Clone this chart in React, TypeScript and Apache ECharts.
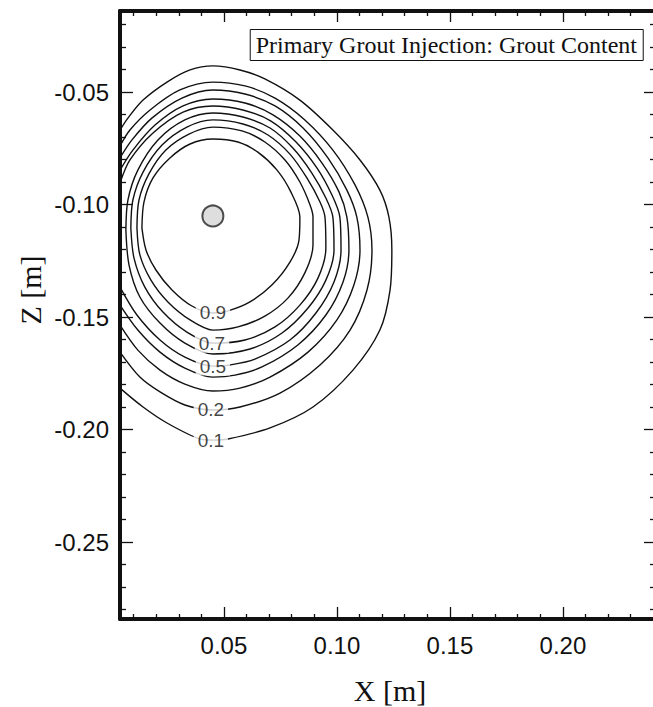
import React, { useEffect, useRef } from "react";
import * as echarts from "echarts";

// ---- axis ticks / labels ----
const xMajor = [0.05, 0.1, 0.15, 0.2];
const xMinor = [0.01, 0.02, 0.03, 0.04, 0.06, 0.07, 0.08, 0.09, 0.11, 0.12, 0.13, 0.14, 0.16, 0.17, 0.18, 0.19, 0.21, 0.22, 0.23];
const zMajor = [-0.25, -0.2, -0.15, -0.1, -0.05];
const zMinor = [-0.28, -0.27, -0.26, -0.24, -0.23, -0.22, -0.21, -0.19, -0.18, -0.17, -0.16, -0.14, -0.13, -0.12, -0.11, -0.09, -0.08, -0.07, -0.06, -0.04, -0.03, -0.02];
const xRange = [0.004, 0.2403];
const zRange = [-0.2842, -0.014];

// ---- contour lines (x [m], z [m]) ----
const c01 = [[0.0040,-0.0669],[0.0075,-0.0616],[0.0142,-0.0536],[0.0248,-0.0456],[0.0350,-0.0402],[0.0451,-0.0384],[0.0571,-0.0402],[0.0681,-0.0442],[0.0836,-0.0536],[0.0982,-0.0669],[0.1102,-0.0802],[0.1190,-0.0936],[0.1230,-0.1056],[0.1243,-0.1202],[0.1235,-0.1380],[0.1190,-0.1558],[0.1071,-0.1736],[0.0894,-0.1900],[0.0704,-0.1993],[0.0518,-0.2042],[0.0451,-0.2047],[0.0394,-0.2042],[0.0248,-0.1971],[0.0142,-0.1900],[0.0040,-0.1816]];
const c02 = [[0.0040,-0.0740],[0.0084,-0.0669],[0.0173,-0.0580],[0.0305,-0.0491],[0.0451,-0.0456],[0.0593,-0.0473],[0.0726,-0.0527],[0.0858,-0.0624],[0.0982,-0.0758],[0.1080,-0.0913],[0.1137,-0.1056],[0.1155,-0.1202],[0.1133,-0.1380],[0.1058,-0.1558],[0.0925,-0.1713],[0.0748,-0.1838],[0.0571,-0.1900],[0.0451,-0.1913],[0.0327,-0.1891],[0.0217,-0.1833],[0.0128,-0.1767],[0.0040,-0.1656]];
const c03 = [[0.0040,-0.0793],[0.0093,-0.0713],[0.0181,-0.0616],[0.0314,-0.0527],[0.0451,-0.0491],[0.0593,-0.0509],[0.0726,-0.0562],[0.0850,-0.0660],[0.0960,-0.0793],[0.1044,-0.0936],[0.1088,-0.1056],[0.1102,-0.1202],[0.1075,-0.1358],[0.1000,-0.1513],[0.0872,-0.1656],[0.0704,-0.1767],[0.0571,-0.1816],[0.0451,-0.1829],[0.0327,-0.1798],[0.0217,-0.1736],[0.0119,-0.1647],[0.0040,-0.1536]];
const c04 = [[0.0040,-0.0847],[0.0097,-0.0758],[0.0195,-0.0647],[0.0319,-0.0562],[0.0451,-0.0531],[0.0593,-0.0549],[0.0717,-0.0602],[0.0836,-0.0696],[0.0934,-0.0816],[0.1009,-0.0944],[0.1044,-0.1056],[0.1053,-0.1202],[0.1027,-0.1344],[0.0951,-0.1491],[0.0827,-0.1624],[0.0668,-0.1722],[0.0549,-0.1758],[0.0451,-0.1767],[0.0327,-0.1727],[0.0217,-0.1656],[0.0119,-0.1558],[0.0040,-0.1447]];
const c05 = [[0.0040,-0.0904],[0.0084,-0.0802],[0.0186,-0.0682],[0.0319,-0.0589],[0.0451,-0.0562],[0.0584,-0.0580],[0.0708,-0.0629],[0.0819,-0.0722],[0.0912,-0.0838],[0.0978,-0.0958],[0.1013,-0.1056],[0.1018,-0.1202],[0.0987,-0.1344],[0.0907,-0.1482],[0.0792,-0.1602],[0.0637,-0.1687],[0.0527,-0.1713],[0.0451,-0.1718],[0.0327,-0.1678],[0.0217,-0.1602],[0.0115,-0.1491],[0.0040,-0.1367]];
const c06 = [[0.0066,-0.1113],[0.0075,-0.0980],[0.0119,-0.0847],[0.0208,-0.0713],[0.0327,-0.0624],[0.0451,-0.0593],[0.0584,-0.0611],[0.0704,-0.0660],[0.0805,-0.0749],[0.0889,-0.0860],[0.0951,-0.0971],[0.0982,-0.1056],[0.0987,-0.1202],[0.0951,-0.1336],[0.0872,-0.1460],[0.0757,-0.1571],[0.0615,-0.1642],[0.0451,-0.1664],[0.0327,-0.1616],[0.0217,-0.1527],[0.0128,-0.1411],[0.0080,-0.1269],[0.0066,-0.1113]];
const c07 = [[0.0088,-0.1104],[0.0097,-0.0980],[0.0142,-0.0856],[0.0226,-0.0736],[0.0336,-0.0656],[0.0451,-0.0624],[0.0584,-0.0642],[0.0695,-0.0691],[0.0792,-0.0776],[0.0867,-0.0882],[0.0925,-0.0989],[0.0947,-0.1056],[0.0951,-0.1193],[0.0916,-0.1327],[0.0836,-0.1447],[0.0726,-0.1544],[0.0593,-0.1602],[0.0451,-0.1616],[0.0336,-0.1567],[0.0230,-0.1478],[0.0150,-0.1367],[0.0102,-0.1238],[0.0088,-0.1104]];
const c08 = [[0.0115,-0.1104],[0.0124,-0.0980],[0.0168,-0.0864],[0.0243,-0.0758],[0.0345,-0.0687],[0.0451,-0.0656],[0.0580,-0.0673],[0.0681,-0.0722],[0.0770,-0.0802],[0.0836,-0.0900],[0.0881,-0.1002],[0.0894,-0.1056],[0.0894,-0.1180],[0.0858,-0.1304],[0.0783,-0.1416],[0.0681,-0.1496],[0.0562,-0.1544],[0.0451,-0.1558],[0.0350,-0.1513],[0.0252,-0.1433],[0.0177,-0.1336],[0.0128,-0.1224],[0.0115,-0.1104]];
const c09 = [[0.0137,-0.1104],[0.0146,-0.0989],[0.0186,-0.0882],[0.0261,-0.0793],[0.0350,-0.0731],[0.0451,-0.0709],[0.0562,-0.0722],[0.0650,-0.0767],[0.0735,-0.0847],[0.0796,-0.0944],[0.0836,-0.1056],[0.0832,-0.1158],[0.0792,-0.1256],[0.0712,-0.1358],[0.0615,-0.1433],[0.0518,-0.1473],[0.0451,-0.1482],[0.0358,-0.1451],[0.0270,-0.1380],[0.0199,-0.1291],[0.0155,-0.1202],[0.0137,-0.1104]];
const contours = [c01, c02, c03, c04, c05, c06, c07, c08, c09];
const contourLevels = ["0.1", "0.2", "0.3", "0.4", "0.5", "0.6", "0.7", "0.8", "0.9"];

// ---- contour labels ----
const labelText = ["0.9", "0.7", "0.5", "0.2", "0.1"];
const labelX = [0.0451, 0.0447, 0.0451, 0.0442, 0.0442];
const labelZ = [-0.1482, -0.1616, -0.1718, -0.1913, -0.2047];

// ---- injection point ----
const injection = [0.0451, -0.1051];

const TITLE = "Primary Grout Injection: Grout Content";
const SANS = "'Liberation Sans', Arial, Helvetica, sans-serif";
const SERIF = "'Liberation Serif', 'Times New Roman', serif";
const INK = "#111111";

export default function App() {
  const ref = useRef<HTMLDivElement>(null);
  useEffect(() => {
    if (!ref.current) return;
    const chart = echarts.init(ref.current, undefined, { renderer: "svg" });
    const baseAxis = {
      type: "value",
      splitLine: { show: false },
      axisPointer: { show: false },
    };
    const tickStyle = { color: INK, width: 1.3 };
    const xAxes = [
      {
        ...baseAxis, position: "bottom", min: xRange[0], max: xRange[1],
        axisLine: { show: true, lineStyle: { color: INK, width: 4 } },
        axisTick: { show: true, inside: true, length: 12, customValues: xMajor, lineStyle: tickStyle },
        axisLabel: { show: true, customValues: xMajor, formatter: (v: number) => v.toFixed(2), fontFamily: SANS, fontSize: 24, color: INK, margin: 14 },
      },
      {
        ...baseAxis, position: "bottom", offset: 0, min: xRange[0], max: xRange[1],
        axisLine: { show: false },
        axisTick: { show: true, inside: true, length: 5, customValues: xMinor, lineStyle: tickStyle },
        axisLabel: { show: false },
      },
      {
        ...baseAxis, position: "top", min: xRange[0], max: xRange[1],
        axisLine: { show: true, lineStyle: { color: INK, width: 4 } },
        axisTick: { show: true, inside: true, length: 11, customValues: xMajor, lineStyle: tickStyle },
        axisLabel: { show: false },
      },
      {
        ...baseAxis, position: "top", offset: 0, min: xRange[0], max: xRange[1],
        axisLine: { show: false },
        axisTick: { show: true, inside: true, length: 5, customValues: xMinor, lineStyle: tickStyle },
        axisLabel: { show: false },
      },
    ];
    const yAxes = [
      {
        ...baseAxis, position: "left", min: zRange[0], max: zRange[1],
        axisLine: { show: true, lineStyle: { color: INK, width: 4 } },
        axisTick: { show: true, inside: true, length: 13, customValues: zMajor, lineStyle: tickStyle },
        axisLabel: { show: true, customValues: zMajor, formatter: (v: number) => v.toFixed(2), fontFamily: SANS, fontSize: 24, color: INK, margin: 11 },
      },
      {
        ...baseAxis, position: "left", offset: 0, min: zRange[0], max: zRange[1],
        axisLine: { show: false },
        axisTick: { show: true, inside: true, length: 6, customValues: zMinor, lineStyle: tickStyle },
        axisLabel: { show: false },
      },
      {
        ...baseAxis, position: "right", min: zRange[0], max: zRange[1],
        axisLine: { show: false },
        axisTick: { show: true, inside: true, length: 10, customValues: zMajor, lineStyle: tickStyle },
        axisLabel: { show: false },
      },
      {
        ...baseAxis, position: "right", offset: 0, min: zRange[0], max: zRange[1],
        axisLine: { show: false },
        axisTick: { show: true, inside: true, length: 4, customValues: zMinor, lineStyle: tickStyle },
        axisLabel: { show: false },
      },
    ];

    const lineSeries = contours.map((c, i) => ({
      type: "line",
      name: contourLevels[i],
      xAxisIndex: 0,
      yAxisIndex: 0,
      data: c,
      showSymbol: false,
      symbol: "none",
      smooth: 0.3,
      lineStyle: { color: INK, width: 1.4 },
      silent: true,
      z: 2,
    }));

    const option: any = {
      animation: false,
      backgroundColor: "#ffffff",
      grid: { left: 120, top: 11, right: -1, bottom: 88, containLabel: false, outerBoundsMode: "none" },
      title: {
        text: TITLE,
        right: 10,
        top: 29,
        padding: [4, 6],
        borderColor: INK,
        borderWidth: 1,
        backgroundColor: "#ffffff",
        textStyle: { fontFamily: SERIF, fontSize: 24, fontWeight: "normal", color: INK },
      },
      xAxis: xAxes,
      yAxis: yAxes,
      series: [
        ...lineSeries,
        {
          type: "scatter",
          xAxisIndex: 0,
          yAxisIndex: 0,
          data: labelText.map((t, i) => [labelX[i], labelZ[i], t]),
          symbol: "circle",
          symbolSize: 2,
          itemStyle: { color: "rgba(255,255,255,0)" },
          silent: true,
          z: 5,
          label: {
            show: true,
            position: "inside",
            formatter: (p: any) => p.value[2],
            fontFamily: SANS,
            fontSize: 19,
            fontWeight: "normal",
            color: "#111111",
            textBorderWidth: 0,
            backgroundColor: "#ffffff",
            padding: [0, 4],
          },
          labelLayout: { hideOverlap: false },
        },
        {
          type: "scatter",
          xAxisIndex: 0,
          yAxisIndex: 0,
          data: [injection],
          symbol: "circle",
          symbolSize: 21,
          itemStyle: { color: "#d6d6d6", borderColor: "#222", borderWidth: 2 },
          silent: true,
          z: 6,
        },
      ],
      graphic: [
        {
          type: "text",
          x: 390,
          y: 690,
          style: { text: "X [m]", fontFamily: SERIF, fontSize: 30, fill: INK, align: "center", verticalAlign: "middle" },
        },
        {
          type: "text",
          x: 30,
          y: 290,
          rotation: Math.PI / 2,
          style: { text: "Z [m]", fontFamily: SERIF, fontSize: 30, fill: INK, align: "center", verticalAlign: "middle" },
        },
      ],
    };
    chart.setOption(option);
    return () => chart.dispose();
  }, []);
  return (
    <div
      ref={ref}
      style={{ position: "absolute", left: 0, top: 0, width: 653, height: 707, background: "#fff" }}
    />
  );
}
